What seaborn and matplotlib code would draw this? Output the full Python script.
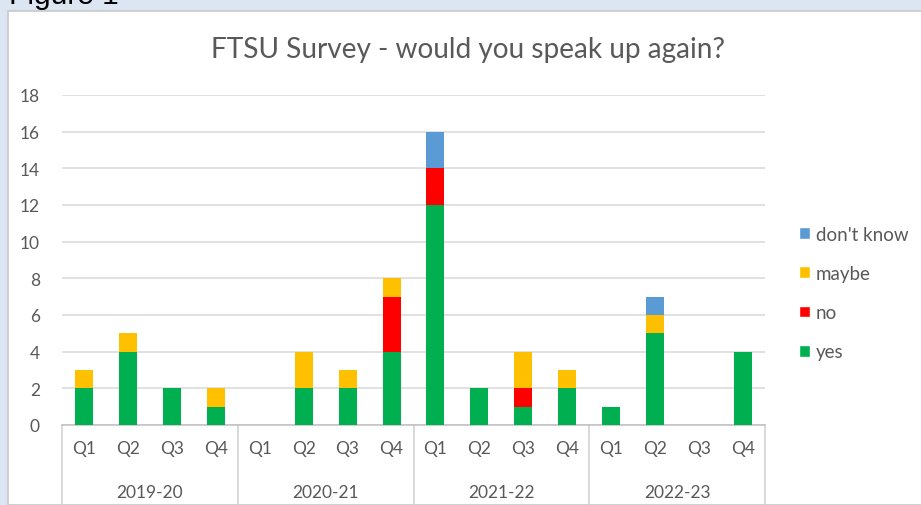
import matplotlib
matplotlib.use("Agg")
import matplotlib.pyplot as plt
from matplotlib.patches import Rectangle, Patch
import seaborn as sns
import pandas as pd
import numpy as np

# dados
years = ['2019-20', '2020-21', '2021-22', '2022-23']
quarters = ['Q1', 'Q2', 'Q3', 'Q4']
yes = [2, 4, 2, 1, 0, 2, 2, 4, 12, 2, 1, 2, 1, 5, 0, 4]
no = [0, 0, 0, 0, 0, 0, 0, 3, 2, 0, 1, 0, 0, 0, 0, 0]
maybe = [1, 1, 0, 1, 0, 2, 1, 1, 0, 0, 2, 1, 0, 1, 0, 0]
dont_know = [0, 0, 0, 0, 0, 0, 0, 0, 2, 0, 0, 0, 0, 1, 0, 0]

cores = {'yes': '#00B050', 'no': '#FF0000', 'maybe': '#FFC000', "don't know": '#5B9BD5'}
cinza = '#595959'

sns.set_theme(style='white')
plt.rcParams['font.family'] = ['Lato', 'DejaVu Sans']

labels = [y + ' ' + q for y in years for q in quarters]
df = pd.DataFrame({'periodo': labels, 'yes': yes, 'no': no, 'maybe': maybe, "don't know": dont_know})
# empilhado: desenha os totais acumulados de tras para frente
df['c_yes'] = df['yes']
df['c_no'] = df['c_yes'] + df['no']
df['c_maybe'] = df['c_no'] + df['maybe']
df["c_don't know"] = df['c_maybe'] + df["don't know"]

fig = plt.figure(figsize=(9.21, 5.06), dpi=100)
fig.patch.set_facecolor('#DCE6F2')
W, H = 921, 506
fig.patches.append(Rectangle((8 / W, 0), 1, 1 - 12 / H, transform=fig.transFigure,
                             facecolor='white', edgecolor='#C8C8C8', lw=1.2, zorder=-5))
fig.text(9 / W, 1 - 4.5 / H, 'Figure 1', fontsize=21.5, family='Liberation Sans', color='black',
         va='baseline', ha='left')

ax = fig.add_axes([62 / W, 1 - 426 / H, (765 - 62) / W, (426 - 96) / H])
ax.set_facecolor('white')
for serie in ["don't know", 'maybe', 'no', 'yes']:
    sns.barplot(data=df, x='periodo', y='c_' + serie, order=labels, color=cores[serie],
                width=0.41, saturation=1, ax=ax, linewidth=0, zorder=3)

ax.set_ylim(0, 18)
ax.set_xlim(-0.5, 15.5)
ax.set_yticks(range(0, 19, 2))
ax.yaxis.grid(True, color='#D9D9D9', lw=1.1, zorder=0)
ax.set_axisbelow(True)
for s in ['top', 'right', 'left']:
    ax.spines[s].set_visible(False)
ax.spines['bottom'].set_color('#BFBFBF')
ax.spines['bottom'].set_linewidth(1.1)
ax.tick_params(axis='y', length=0, labelsize=12.5, labelcolor=cinza, pad=16)
ax.set_xticks(range(16))
ax.set_xticklabels(quarters * 4)
ax.tick_params(axis='x', length=0, labelsize=12.5, labelcolor=cinza, pad=11)
ax.set_xlabel('')
ax.set_ylabel('')

# separadores dos anos e rotulos
for k in range(5):
    ax.plot([k * 4 - 0.5, k * 4 - 0.5], [0, -80 / 18.33], color='#D0D0D0', lw=1.1,
            clip_on=False, transform=ax.transData)
for k, yr in enumerate(years):
    ax.text(k * 4 + 1.5, -67 / 18.33, yr, ha='center', va='center', fontsize=12.5, color=cinza)

fig.text(468 / W, 1 - 50 / H, 'FTSU Survey - would you speak up again?', ha='center', va='center',
         fontsize=20.2, color=cinza)

handles = [Patch(facecolor=cores[s], label=s) for s in ["don't know", 'maybe', 'no', 'yes']]
fig.legend(handles=handles, loc='center left', bbox_to_anchor=(782 / W, 1 - 294 / H), frameon=False,
           fontsize=13.5, labelcolor=cinza, handlelength=0.6, handleheight=0.6, handletextpad=0.3,
           labelspacing=1.18)

plt.savefig('out.png', dpi=100)
